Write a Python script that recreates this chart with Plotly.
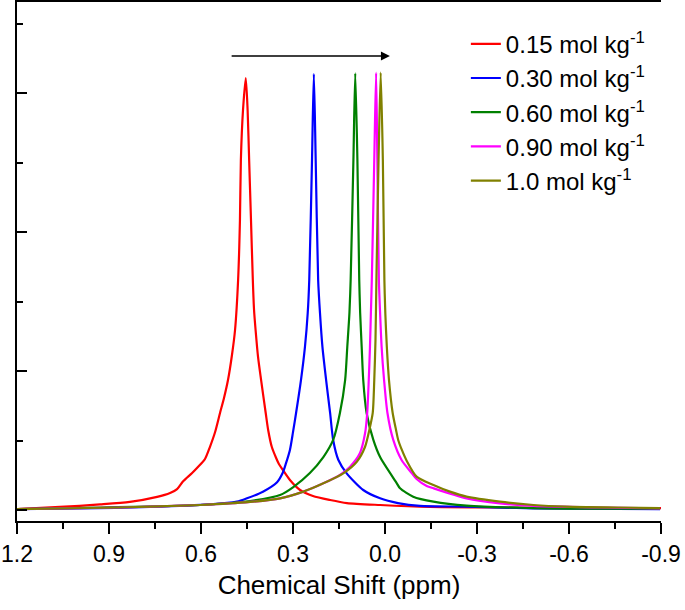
import plotly.graph_objects as go

# ---- data (chemical shift in ppm, intensity in a.u.) ----
labels = ["0.15 mol kg<sup>-1</sup>", "0.30 mol kg<sup>-1</sup>", "0.60 mol kg<sup>-1</sup>",
          "0.90 mol kg<sup>-1</sup>", "1.0 mol kg<sup>-1</sup>"]
colors = ["#FF0000", "#0000FF", "#008000", "#FF00FF", "#808000"]

red_x = [1.200, 1.060, 0.929, 0.832, 0.743, 0.701, 0.678, 0.659, 0.629, 0.610, 0.587, 0.571,
         0.554, 0.538, 0.525, 0.512, 0.499, 0.489, 0.479, 0.473, 0.470, 0.463, 0.454,
         0.448, 0.443, 0.437, 0.431, 0.427, 0.422, 0.414, 0.404, 0.389, 0.381, 0.369, 0.355,
         0.346, 0.333, 0.310, 0.277, 0.235, 0.179, 0.124, 0.016, -0.147, -0.375, -0.571, -0.900]
red_y = [0.007, 0.022, 0.040, 0.058, 0.094, 0.122, 0.150, 0.205, 0.266, 0.309, 0.367, 0.453,
         0.561, 0.698, 0.806, 0.935, 1.115, 1.295, 1.655, 2.086, 2.518, 2.878, 3.108,
         2.878, 2.518, 2.086, 1.655, 1.439, 1.295, 1.101, 0.935, 0.698, 0.576, 0.453, 0.374,
         0.331, 0.288, 0.216, 0.144, 0.101, 0.072, 0.050, 0.036, 0.022, 0.018, 0.014, 0.014]

blue_x = [1.200, 0.995, 0.766, 0.571, 0.483, 0.450, 0.398, 0.352, 0.333, 0.323, 0.310, 0.300,
          0.290, 0.274, 0.261, 0.252, 0.247, 0.238, 0.232,
          0.226, 0.218, 0.212, 0.204, 0.192, 0.179, 0.169, 0.152, 0.125, 0.071, 0.016,
          -0.042, -0.114, -0.266, -0.483, -0.897]
blue_y = [0.007, 0.011, 0.022, 0.040, 0.060, 0.084, 0.132, 0.200, 0.270, 0.335, 0.432, 0.560,
          0.698, 0.935, 1.173, 1.417, 1.655, 2.518, 3.137,
          2.518, 1.655, 1.417, 1.173, 0.935, 0.698, 0.504, 0.360, 0.264, 0.144, 0.084,
          0.050, 0.029, 0.024, 0.012, 0.007]

green_x = [1.200, 0.929, 0.603, 0.440, 0.342, 0.299, 0.245, 0.201, 0.169, 0.147, 0.130, 0.123,
           0.116, 0.112, 0.103, 0.097,
           0.090, 0.084, 0.081, 0.076, 0.071, 0.060, 0.038, 0.016, -0.038, -0.049, -0.092,
           -0.158, -0.266, -0.483, -0.897]
green_y = [0.007, 0.018, 0.036, 0.065, 0.108, 0.165, 0.266, 0.381, 0.504, 0.698, 0.935, 1.173,
           1.417, 1.655, 2.518, 3.142,
           2.518, 1.655, 1.417, 1.173, 0.935, 0.698, 0.504, 0.381, 0.194, 0.156, 0.096,
           0.060, 0.031, 0.014, 0.009]

magenta_x = [1.200, 0.864, 0.603, 0.440, 0.342, 0.266, 0.201, 0.147, 0.114, 0.082, 0.065, 0.058,
             0.053, 0.049, 0.046, 0.043, 0.035, 0.029,
             0.025, 0.020, 0.016, 0.011, 0.003, -0.008, -0.027, -0.054, -0.087, -0.103, -0.136,
             -0.158, -0.266, -0.375, -0.484, -0.701, -0.897]
magenta_y = [0.007, 0.018, 0.036, 0.058, 0.084, 0.132, 0.192, 0.252, 0.312, 0.408, 0.552, 0.698,
             0.935, 1.173, 1.417, 1.655, 2.518, 3.146,
             2.518, 1.655, 1.417, 1.173, 0.935, 0.698, 0.504, 0.360, 0.266, 0.223, 0.173,
             0.156, 0.084, 0.048, 0.029, 0.018, 0.012]

olive_x = [1.200, 0.864, 0.603, 0.440, 0.342, 0.266, 0.201, 0.136, 0.092, 0.065, 0.051, 0.040,
           0.035, 0.031, 0.028, 0.021, 0.014,
           0.007, 0.002, -0.001, -0.006, -0.013, -0.025, -0.036, -0.043, -0.055, -0.071,
           -0.103, -0.158, -0.212, -0.266, -0.375, -0.484, -0.593, -0.766, -0.897]
olive_y = [0.007, 0.018, 0.036, 0.058, 0.084, 0.132, 0.192, 0.264, 0.347, 0.455, 0.576, 0.698,
           0.935, 1.223, 1.655, 2.518, 3.146,
           2.518, 1.655, 1.417, 1.173, 0.935, 0.698, 0.576, 0.504, 0.432, 0.353,
           0.240, 0.180, 0.132, 0.096, 0.060, 0.036, 0.024, 0.018, 0.014]

series_x = [red_x, blue_x, green_x, magenta_x, olive_x]
series_y = [red_y, blue_y, green_y, magenta_y, olive_y]

x_ticks = [1.2, 0.9, 0.6, 0.3, 0.0, -0.3, -0.6, -0.9]
x_ticktext = ["1.2", "0.9", "0.6", "0.3", "0.0", "-0.3", "-0.6", "-0.9"]

arrow_from = (0.505, 3.266)
arrow_to = (-0.016, 3.266)

FONT = "Liberation Sans, Arial, sans-serif"

fig = go.Figure()
for i, (xs, ys) in enumerate(zip(series_x, series_y)):
    fig.add_trace(go.Scatter(x=xs, y=ys, mode="lines", name=labels[i],
                             line=dict(color=colors[i], width=2.2, shape="spline", smoothing=0.7),
                             legendgroup=str(i)))

fig.update_layout(
    width=685, height=610,
    margin=dict(l=17, r=24, t=2, b=89, autoexpand=False),
    paper_bgcolor="white", plot_bgcolor="white",
    font=dict(family=FONT, color="black", size=23),
    showlegend=True,
    legend=dict(x=0.697, y=0.962, xanchor="left", yanchor="top",
                font=dict(size=24, family=FONT, color="black"),
                bgcolor="rgba(0,0,0,0)", traceorder="grouped", tracegroupgap=0),
    xaxis=dict(range=[1.2, -0.9], tickvals=x_ticks, ticktext=x_ticktext,
               ticks="outside", ticklen=11, tickwidth=2, tickcolor="black",
               minor=dict(dtick=0.15, ticks="outside", ticklen=6, tickwidth=2, tickcolor="black"),
               showline=True, linewidth=2, linecolor="black", mirror=True,
               showgrid=False, zeroline=False, automargin=False,
               tickfont=dict(size=23, family=FONT),
               title=dict(text="Chemical Shift (ppm)", font=dict(size=26, family=FONT), standoff=10)),
    yaxis=dict(range=[-0.0791, 3.6547], dtick=1, tick0=0,
               ticks="inside", ticklen=10, tickwidth=2, tickcolor="black",
               minor=dict(dtick=0.5, ticks="inside", ticklen=6, tickwidth=2, tickcolor="black"),
               showticklabels=False, showline=True, linewidth=2, linecolor="black",
               showgrid=False, zeroline=False, automargin=False),
    yaxis2=dict(range=[0, 4.99], dtick=1, tick0=0, overlaying="y", side="right",
                ticks="inside", ticklen=10, tickwidth=2, tickcolor="black",
                minor=dict(dtick=0.5, ticks="inside", ticklen=5, tickwidth=2, tickcolor="black"),
                showticklabels=False, showline=True, linewidth=2, linecolor="black",
                showgrid=False, zeroline=False, automargin=False),
)

fig.add_annotation(x=arrow_to[0], y=arrow_to[1], ax=arrow_from[0], ay=arrow_from[1],
                   xref="x", yref="y", axref="x", ayref="y", text="", showarrow=True,
                   arrowhead=2, arrowsize=1.2, arrowwidth=1.5, arrowcolor="black")

fig.write_html("out.html", config={"displayModeBar": False},
               post_script="document.body.style.margin='0px';")
